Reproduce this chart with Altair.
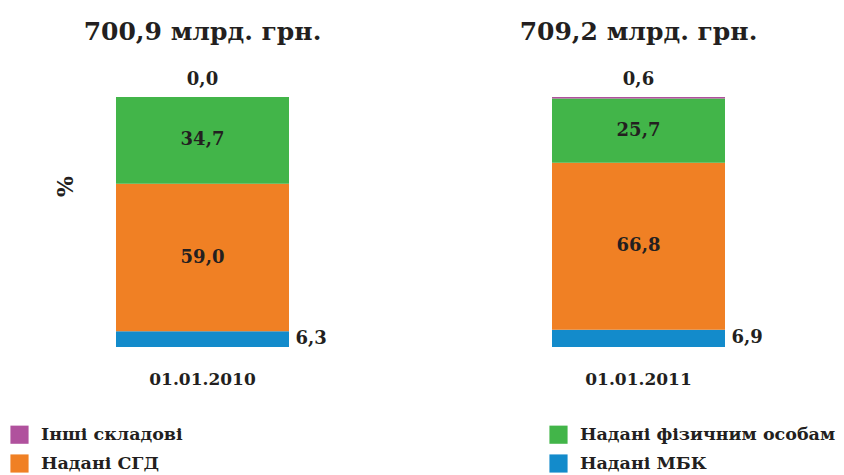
import altair as alt
import pandas as pd

dates = ["01.01.2010", "01.01.2011"]
totals = ["700,9 млрд. грн.", "709,2 млрд. грн."]
categories = ["Надані МБК", "Надані СГД", "Надані фізичним особам", "Інші складові"]
values_2010 = [6.3, 59.0, 34.7, 0.0]
values_2011 = [6.9, 66.8, 25.7, 0.6]

legend_order = ["Інші складові", "Надані фізичним особам", "Надані СГД", "Надані МБК"]
colors = {"Інші складові": "#B0519D", "Надані фізичним особам": "#42B549",
          "Надані СГД": "#F08024", "Надані МБК": "#138BCB"}

rows = []
for d, tot, vals in zip(dates, totals, [values_2010, values_2011]):
    cum = 0.0
    for i, (c, v) in enumerate(zip(categories, vals)):
        rows.append({"date": d, "total": tot, "cat": c, "order": i, "v": v,
                     "y0": cum, "y1": cum + v, "mid": cum + v / 2,
                     "label": f"{v:.1f}".replace(".", ",")})
        cum += v
df = pd.DataFrame(rows)

FONT = "DejaVu Serif"
TXT = "#231F20"

xs = alt.X("date:N", scale=alt.Scale(domain=dates, range=[0, 825], paddingInner=0.6032, paddingOuter=0.2477),
           axis=alt.Axis(title=None, orient="bottom", domain=False, ticks=False, grid=False, labelAngle=0,
                         labelFont=FONT, labelFontWeight="bold", labelFontSize=17, labelColor=TXT,
                         labelPadding=24))
ys = alt.Y("y0:Q", scale=alt.Scale(domain=[0, 100], range=[339, 89]),
           axis=alt.Axis(title="%", domain=False, ticks=False, labels=False, grid=False,
                         titleFont=FONT, titleFontSize=22, titleFontWeight="bold", titleColor=TXT,
                         titleAngle=270, titleX=69, titleY=178))

base = alt.Chart(df)

bars = base.mark_bar(width={"band": 1}).encode(
    x=xs,
    y=ys,
    y2="y1:Q",
    color=alt.Color("cat:N", scale=alt.Scale(domain=legend_order, range=[colors[c] for c in legend_order]),
                    legend=alt.Legend(title=None, orient="none", legendX=2, legendY=417, columns=2,
                                      direction="horizontal", symbolType="square", symbolSize=330,
                                      symbolStrokeWidth=0, symbolOpacity=1, labelFont=FONT,
                                      labelFontWeight="bold", labelFontSize=17.5, labelColor=TXT,
                                      labelOffset=12, rowPadding=10, columnPadding=366,
                                      gridAlign="each", labelLimit=400)),
    order="order:Q",
)

inner = base.transform_filter(
    alt.FieldOneOfPredicate(field="cat", oneOf=["Надані СГД", "Надані фізичним особам"])
).mark_text(font=FONT, fontWeight="bold", fontSize=18, color=TXT, baseline="middle").encode(
    x="date:N", y=alt.Y("mid:Q"), text="label:N")

side = base.transform_filter(alt.datum.cat == "Надані МБК").mark_text(
    font=FONT, fontWeight="bold", fontSize=18, color=TXT, baseline="middle", align="left", dx=93
).encode(x="date:N", y=alt.Y("mid:Q"), text="label:N")

top = base.transform_filter(alt.datum.cat == "Інші складові").mark_text(
    font=FONT, fontWeight="bold", fontSize=18, color=TXT, baseline="middle", dy=-17
).encode(x="date:N", y=alt.Y("y1:Q"), text="label:N")

head = base.transform_filter(alt.datum.cat == "Інші складові").mark_text(
    font=FONT, fontWeight="bold", fontSize=25, color=TXT, baseline="middle", dy=-65
).encode(x="date:N", y=alt.Y("y1:Q"), text="total:N")

chart = alt.layer(bars, inner, side, top, head).properties(
    width=828, height=339, autosize="none",
    padding={"left": 0, "top": 0, "right": 0, "bottom": 128},
).configure(background="white").configure_view(stroke=None, strokeWidth=0)

chart.save("out.html", embed_options={"renderer": "svg", "actions": False})
